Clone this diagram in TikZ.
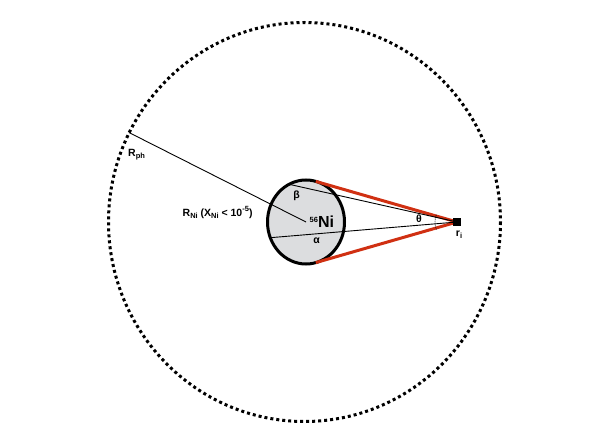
\documentclass[tikz,border=0pt]{standalone}
\usepackage{fontspec}
\setmainfont{Liberation Sans}
\usetikzlibrary{shapes.geometric,calc}
\definecolor{redline}{RGB}{208,48,18}
\definecolor{nifill}{RGB}{220,221,223}
\newcommand{\mysub}[1]{\raisebox{-0.35ex}{\fontsize{7.5}{8}\selectfont #1}}
\newcommand{\mysup}[1]{\raisebox{0.9ex}{\fontsize{7.5}{8}\selectfont #1}}
\tikzset{
  thinline/.style={line width=0.9pt, black},
  redray/.style={line width=3pt, redline},
  lab/.style={inner sep=0pt, font=\fontsize{10.5}{12}\selectfont\bfseries},
}
\begin{document}
\begin{tikzpicture}[x=1pt,y=-1pt]
\useasboundingbox (0,0) rectangle (589,441);
% photosphere
\coordinate (c) at (304.5,222);
\draw[line width=3pt, dash pattern=on 3pt off 3pt] (c) ellipse [x radius=196, y radius=199.5];
\coordinate (rph) at ($(c)+(206.6:196 and 199.5)$);
% Ni core
\coordinate (ni) at (306,222);
\coordinate (ri) at (457,222);
\coordinate (tt) at (315.8,181.4);
\coordinate (tb) at (315.8,262.6);
\coordinate (bp) at (289.1,184.3);
\coordinate (ap) at (270.3,237.7);
\draw[line width=3pt, fill=nifill] (ni) ellipse [x radius=38.5, y radius=42];
\draw[redray] (tt) -- (ri);
\draw[redray] (tb) -- (ri);
\draw[thinline] (bp) -- (ri);
\draw[thinline] (ap) -- (ri);
\draw[thinline] (ni) -- (rph);
\draw[line width=0.6pt, dash pattern=on 1pt off 1pt] ($(ri)+(160:22)$) arc[start angle=160, end angle=200, radius=22];
\node[fill=black, minimum size=8pt, inner sep=0pt] (sq) at (ri) {};
% labels
\node[lab, anchor=west] (lrph) at (128,155) {R\mysub{ph}};
\node[lab, anchor=west] (lrni) at (182.5,212.5) {R\mysub{Ni} (X\mysub{Ni} < 10\mysup{-5})};
\node[lab, anchor=west] (lni) at (309.5,222) {\mysup{56}\fontsize{16}{17}\selectfont Ni};
\node[lab] (lb) at (296.5,196) {β};
\node[lab] (la) at (316.5,240.5) {α};
\node[lab] (lt) at (419,219) {θ};
\node[lab] (lri) at (459,235) {r\mysub{i}};
\end{tikzpicture}
\end{document}
